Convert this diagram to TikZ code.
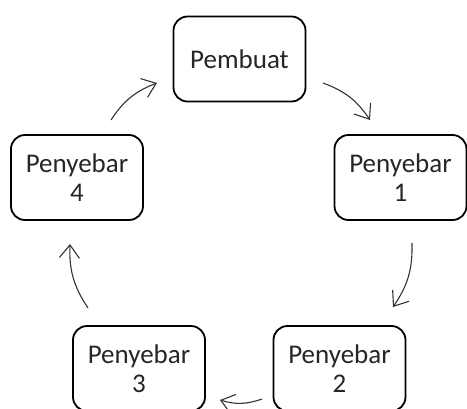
\documentclass[tikz,border=0pt]{standalone}
\usepackage{fontspec}
\setmainfont{Carlito}
\usetikzlibrary{arrows.meta}
\tikzset{
  textnode/.style = {align=center, inner sep=0pt, text centered,
    font=\fontsize{27}{29}\selectfont, text=black!85},
  role_node/.style = {textnode, rectangle, rounded corners=14pt, draw=black,
    line width=1.8pt, minimum width=132pt, minimum height=85pt},% pembuat, penyebar
  flow_arrow/.style = {draw=black!80, line width=1.1pt,
    -{Straight Barb[length=13pt,width=20pt]}, bend left=18}% panah
}

\begin{document}
\begin{tikzpicture}[x=1pt, y=-1pt]
      \useasboundingbox (0,0) rectangle (467,408);
      \node [role_node] (pembuat) at (239.5,59) {Pembuat};
      \node [role_node] (penyebar1) at (400.5,177.5) {Penyebar\\1};
      \node [role_node] (penyebar2) at (339.5,368.5) {Penyebar\\2};
      \node [role_node] (penyebar3) at (139,368.5) {Penyebar\\3};
      \node [role_node] (penyebar4) at (77,177.5) {Penyebar\\4};
      % [bend left=18]
      \draw [flow_arrow] ([shift={(83.5,24)}]pembuat.center) to ([shift={(-30.5,-57.5)}]penyebar1.center);
      \draw [flow_arrow] ([shift={(11.5,65.5)}]penyebar1.center) to ([shift={(53.5,-61.5)}]penyebar2.center);
      \draw [flow_arrow] ([shift={(-77.5,30.5)}]penyebar2.center) to ([shift={(81,31.5)}]penyebar3.center);
      \draw [flow_arrow] ([shift={(-51,-60.5)}]penyebar3.center) to ([shift={(-7,66.5)}]penyebar4.center);
      \draw [flow_arrow] ([shift={(34,-57.5)}]penyebar4.center) to ([shift={(-82.5,24)}]pembuat.center);
\end{tikzpicture}
\end{document}
